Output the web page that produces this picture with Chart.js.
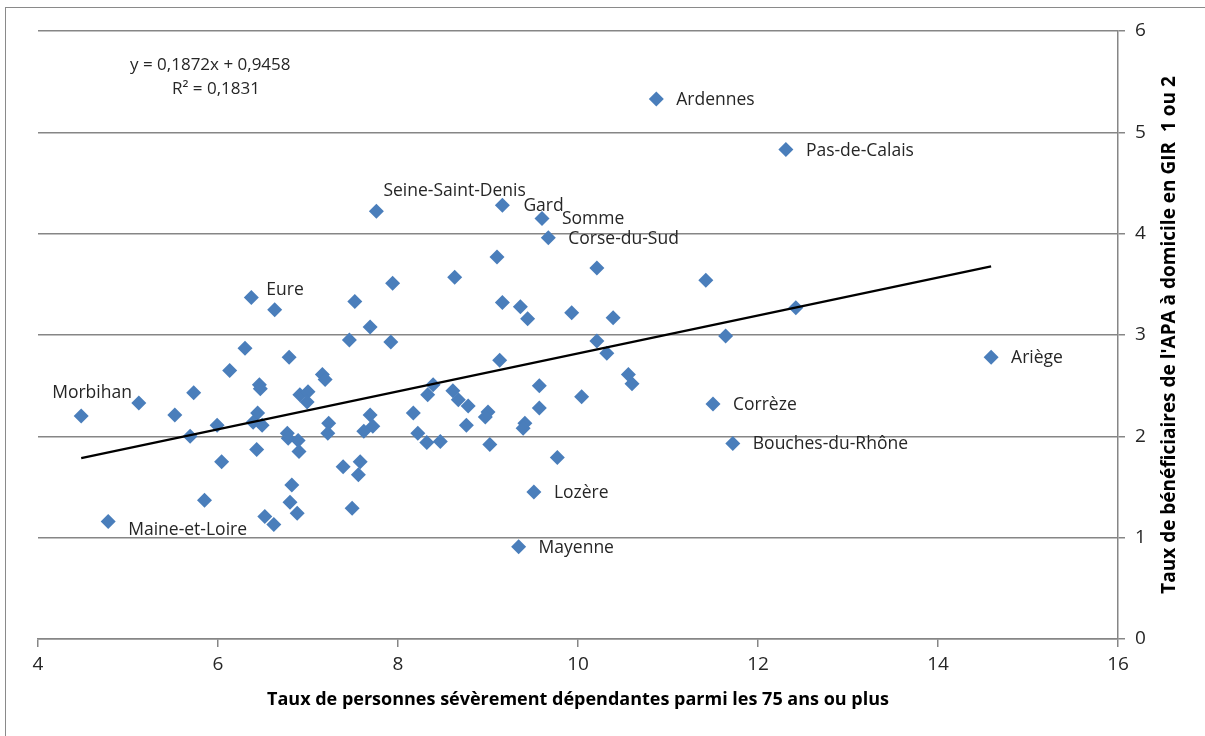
<!DOCTYPE html>
<html>
<head>
<meta charset="utf-8">
<script src="https://cdn.jsdelivr.net/npm/chart.js@4/dist/chart.umd.min.js"></script>
<style>
  html, body { margin: 0; padding: 0; background: #fff; }
  #cadre { position: absolute; left: 5px; top: 7px; width: 1400px; height: 900px; border: 1px solid #8a8a8a; }
  #zone { position: absolute; left: 0; top: 0; width: 1205px; height: 736px; }
</style>
</head>
<body>
<div id="cadre"></div>
<div id="zone"><canvas id="nuage"></canvas></div>
<script>
'use strict';

// taux de personnes sévèrement dépendantes parmi les 75 ans ou plus
const tauxDependance = [
  4.48, 4.78, 5.12, 5.52, 5.69, 5.73, 5.85, 5.99, 6.04, 6.13,
  6.30, 6.37, 6.63, 6.79, 6.46, 6.47, 6.44, 6.39, 6.49, 6.43,
  6.82, 6.80, 6.88, 6.52, 6.62, 6.77, 6.78, 6.89, 6.90, 6.91,
  7.00, 6.99, 7.16, 7.19, 7.23, 7.22, 7.39, 7.58, 7.56, 7.49,
  7.52, 7.46, 7.69, 7.94, 7.92, 7.69, 7.72, 7.62, 8.17, 8.22,
  8.32, 8.33, 8.39, 7.76, 9.16, 9.60, 9.67, 9.10, 8.63, 10.21,
  9.16, 9.36, 9.44, 9.93, 10.39, 10.21, 10.32, 9.13, 8.61, 8.67,
  8.78, 9.57, 9.57, 10.04, 9.00, 8.97, 8.76, 9.41, 9.39, 8.47,
  9.02, 9.77, 11.42, 12.42, 11.64, 10.56, 10.60, 11.50, 11.72, 10.87,
  12.31, 9.51, 9.34, 14.59
];
// taux de bénéficiaires de l'APA à domicile en GIR 1 ou 2
const tauxApaGir12 = [
  2.20, 1.16, 2.33, 2.21, 2.00, 2.43, 1.37, 2.11, 1.75, 2.65,
  2.87, 3.37, 3.25, 2.78, 2.51, 2.47, 2.23, 2.14, 2.11, 1.87,
  1.52, 1.35, 1.24, 1.21, 1.13, 2.03, 1.98, 1.96, 1.85, 2.41,
  2.44, 2.34, 2.61, 2.56, 2.13, 2.03, 1.70, 1.75, 1.62, 1.29,
  3.33, 2.95, 3.08, 3.51, 2.93, 2.21, 2.10, 2.05, 2.23, 2.03,
  1.94, 2.41, 2.51, 4.22, 4.28, 4.15, 3.96, 3.77, 3.57, 3.66,
  3.32, 3.28, 3.16, 3.22, 3.17, 2.94, 2.82, 2.75, 2.45, 2.36,
  2.30, 2.50, 2.28, 2.39, 2.24, 2.19, 2.11, 2.13, 2.08, 1.95,
  1.92, 1.79, 3.54, 3.27, 2.99, 2.61, 2.52, 2.32, 1.93, 5.33,
  4.83, 1.45, 0.91, 2.78
];
// noms affichés (vide = point sans étiquette)
const departements = [
  'Morbihan', 'Maine-et-Loire', '', '', '', '', '', '', '', '',
  '', 'Eure', '', '', '', '', '', '', '', '',
  '', '', '', '', '', '', '', '', '', '',
  '', '', '', '', '', '', '', '', '', '',
  '', '', '', '', '', '', '', '', '', '',
  '', '', '', 'Seine-Saint-Denis', 'Gard', 'Somme', 'Corse-du-Sud', '', '', '',
  '', '', '', '', '', '', '', '', '', '',
  '', '', '', '', '', '', '', '', '', '',
  '', '', '', '', '', '', '', 'Corrèze', 'Bouches-du-Rhône', 'Ardennes',
  'Pas-de-Calais', 'Lozère', 'Mayenne', 'Ariège'
];
const ticksX = [4, 6, 8, 10, 12, 14, 16];
const ticksY = [0, 1, 2, 3, 4, 5, 6];

// droite de tendance linéaire
const pente = 0.1872;
const ordonnee = 0.9458;
const r2 = 0.1831;

const titreX = 'Taux de personnes sévèrement dépendantes parmi les 75 ans ou plus';
const titreY = "Taux de bénéficiaires de l'APA à domicile en GIR  1 ou 2";

// décalage des étiquettes par rapport au point (style)
const decalages = {
  'Morbihan': [-29, -23],
  'Maine-et-Loire': [20, 9],
  'Eure': [15, -7],
  'Seine-Saint-Denis': [7, -20],
  'Gard': [21, 1],
  'Somme': [20, 1],
  'Corse-du-Sud': [20, 1]
};

const points = tauxDependance.map((x, i) => ({ x: x, y: tauxApaGir12[i] }));
const xMin = Math.min(...tauxDependance);
const xMax = Math.max(...tauxDependance);
const tendance = [
  { x: xMin, y: pente * xMin + ordonnee },
  { x: xMax, y: pente * xMax + ordonnee }
];

const virgule = v => v.toString().replace('.', ',');

const FONT = '"Open Sans", "DejaVu Sans", sans-serif';
const GRIS = '#868686';

const etiquettes = {
  id: 'etiquettes',
  afterDatasetsDraw(chart) {
    const ctx = chart.ctx;
    const meta = chart.getDatasetMeta(0);
    ctx.save();
    ctx.font = '17.5px ' + FONT;
    ctx.fillStyle = '#262626';
    ctx.textBaseline = 'middle';
    ctx.textAlign = 'left';
    departements.forEach((nom, i) => {
      if (!nom) return;
      const el = meta.data[i];
      const d = decalages[nom] || [20, 1];
      ctx.fillText(nom, el.x + d[0], el.y + d[1]);
    });

    // équation de la tendance
    ctx.font = '17px ' + FONT;
    ctx.fillText('y = ' + virgule(pente) + 'x + ' + virgule(ordonnee), 130, 65);
    ctx.fillText('R² = ' + virgule(r2), 172, 89);

    // titre de l'axe vertical, lu de bas en haut
    const a = chart.chartArea;
    ctx.font = 'bold 19px ' + FONT;
    ctx.fillStyle = '#000';
    ctx.textAlign = 'center';
    ctx.translate(1170, (a.top + a.bottom) / 2);
    ctx.rotate(-Math.PI / 2);
    ctx.fillText(titreY, 0, 0);
    ctx.restore();
  }
};

new Chart(document.getElementById('nuage'), {
  type: 'scatter',
  data: {
    datasets: [{
      label: 'Départements',
      data: points,
      pointStyle: 'rectRot',
      pointRadius: 7.5,
      pointHoverRadius: 7.5,
      backgroundColor: '#4A7EBB',
      borderColor: '#4A7EBB',
      borderWidth: 0,
      order: 1
    }, {
      type: 'line',
      label: 'Tendance',
      data: tendance,
      borderColor: '#000',
      borderWidth: 2.2,
      pointRadius: 0,
      fill: false,
      order: 0
    }]
  },
  options: {
    responsive: true,
    maintainAspectRatio: false,
    animation: false,
    events: [],
    layout: { padding: { left: 38, top: 31, right: 0, bottom: 0 } },
    plugins: {
      legend: { display: false },
      tooltip: { enabled: false },
      title: { display: false }
    },
    scales: {
      x: {
        type: 'linear',
        min: 4,
        max: 16,
        afterBuildTicks: s => { s.ticks = ticksX.map(v => ({ value: v })); },
        afterFit: s => { s.height = 97; },
        grid: { drawOnChartArea: false, drawTicks: true, tickLength: 8, color: GRIS, lineWidth: 1.5 },
        border: { display: true, color: GRIS, width: 1.5 },
        ticks: { color: '#262626', font: { family: FONT, size: 19 }, padding: 6 },
        title: {
          display: true,
          text: titreX,
          color: '#000',
          font: { family: FONT, size: 18, weight: 'bold' },
          padding: { top: 0, bottom: 25 }
        }
      },
      y: {
        type: 'linear',
        position: 'right',
        min: 0,
        max: 6,
        afterBuildTicks: s => { s.ticks = ticksY.map(v => ({ value: v })); },
        afterFit: s => { s.width = 87; },
        grid: { drawTicks: true, tickLength: 7, color: GRIS, lineWidth: 1.5 },
        border: { display: true, color: GRIS, width: 1.5 },
        ticks: { color: '#262626', font: { family: FONT, size: 19 }, padding: 10 }
      }
    }
  },
  plugins: [etiquettes]
});
</script>
</body>
</html>
